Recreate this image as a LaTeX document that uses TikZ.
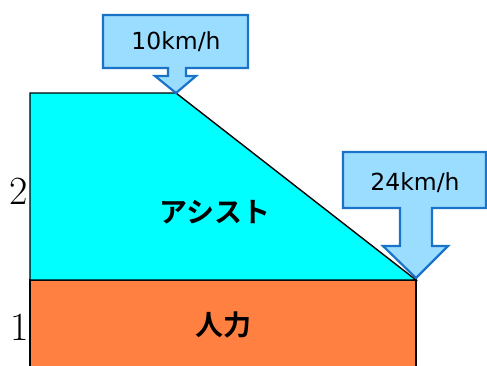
\documentclass[tikz,border=0pt]{standalone}
\usepackage{fontspec}
\newfontfamily\cjk{Noto Sans CJK JP}[BoldFont={Noto Sans CJK JP Bold}]
\newfontfamily\lab{DejaVu Sans}
\definecolor{cyanfill}{RGB}{0,255,255}
\definecolor{orangefill}{RGB}{255,128,64}
\definecolor{callfill}{RGB}{155,221,255}
\definecolor{callline}{RGB}{25,115,200}
\begin{document}
\begin{tikzpicture}[x=1pt,y=-1pt,
  callout/.style={fill=callfill,draw=callline,line width=2.2pt,line join=miter},
  speed/.style={font=\lab\fontsize{23.5}{25}\selectfont,text=black,inner sep=0pt},
  jp/.style={font=\cjk\bfseries\fontsize{28}{30}\selectfont,inner sep=0pt},
  axis/.style={font=\fontsize{40}{42}\selectfont,inner sep=0pt}]
\useasboundingbox (0,0) rectangle (487,365);
% orange block
\fill[orangefill] (30,280) rectangle (416,366);
\draw[line width=1.4pt] (30,366) -- (30,280) -- (416,280) -- (416,366);
% cyan block
\draw[fill=cyanfill,line width=1.4pt,line join=miter] (30,280) -- (30,93) -- (176,93) -- (416,280) -- cycle;
% callout 1
\draw[callout] (103,15) -- (248,15) -- (248,68) -- (186,68) -- (186,76) -- (196,76) -- (176,93) -- (155,76) -- (168,76) -- (168,68) -- (103,68) -- cycle;
\node[speed] (s1) at (176,42) {10km/h};
% callout 2
\draw[callout] (343,152) -- (486,152) -- (486,208) -- (432,208) -- (432,246) -- (448,246) -- (416,278) -- (383,246) -- (400,246) -- (400,208) -- (343,208) -- cycle;
\node[speed] (s2) at (415,183) {24km/h};
% labels
\node[jp] (assist) at (215,212) {アシスト};
\node[jp] (human) at (223,325) {人力};
\node[axis] (two) at (19,191) {2};
\node[axis] (one) at (20,327) {1};
\end{tikzpicture}
\end{document}
